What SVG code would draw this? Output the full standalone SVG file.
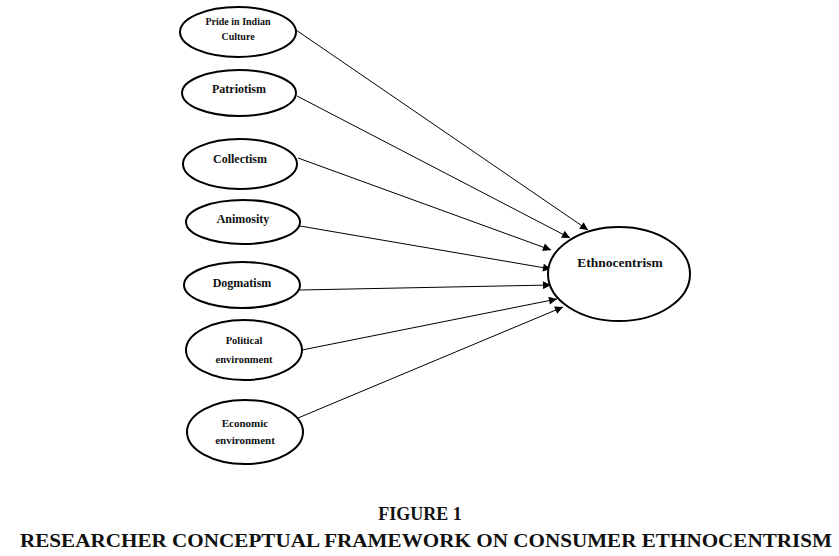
<svg xmlns="http://www.w3.org/2000/svg" width="839" height="556" viewBox="0 0 839 556">
<style>
.n{fill:#fff;stroke:#000;stroke-width:2}
.t{font-family:"Liberation Serif","Times New Roman",serif;font-weight:bold;fill:#111;text-anchor:middle}
.c{stroke:#000;stroke-width:1;fill:none;marker-end:url(#ah)}
</style>
<defs>
<marker id="ah" viewBox="0 0 10 10" refX="10" refY="5" markerWidth="10" markerHeight="8" markerUnits="userSpaceOnUse" orient="auto">
<path d="M0,0L10,5L0,10z" fill="#000"/>
</marker>
</defs>
<rect width="839" height="556" fill="#fff"/>
<g id="connectors">
<line class="c" x1="296" y1="30" x2="588" y2="230"/>
<line class="c" x1="297" y1="96" x2="570" y2="238"/>
<line class="c" x1="298" y1="158" x2="551" y2="250"/>
<line class="c" x1="300" y1="226" x2="551" y2="269"/>
<line class="c" x1="300" y1="290" x2="551" y2="285"/>
<line class="c" x1="302" y1="350" x2="557" y2="299"/>
<line class="c" x1="298" y1="418" x2="563" y2="307"/>
</g>
<g id="pride"><ellipse class="n" cx="238" cy="32" rx="58" ry="25"/><text class="t" x="238" y="25" font-size="10">Pride in Indian</text><text class="t" x="238" y="40" font-size="10">Culture</text></g>
<g id="patriotism"><ellipse class="n" cx="239" cy="93" rx="57" ry="23"/><text class="t" x="239" y="93" font-size="12">Patriotism</text></g>
<g id="collectism"><ellipse class="n" cx="240" cy="164" rx="57" ry="25"/><text class="t" x="240" y="163" font-size="12">Collectism</text></g>
<g id="animosity"><ellipse class="n" cx="243" cy="222" rx="57" ry="22"/><text class="t" x="243" y="223" font-size="12">Animosity</text></g>
<g id="dogmatism"><ellipse class="n" cx="242" cy="285" rx="58" ry="23"/><text class="t" x="242" y="287" font-size="12">Dogmatism</text></g>
<g id="political"><ellipse class="n" cx="244" cy="350" rx="58" ry="30"/><text class="t" x="244" y="344" font-size="10.5">Political</text><text class="t" x="244" y="363" font-size="10.5">environment</text></g>
<g id="economic"><ellipse class="n" cx="245" cy="432" rx="58" ry="32"/><text class="t" x="245" y="427" font-size="11">Economic</text><text class="t" x="245" y="444" font-size="11">environment</text></g>
<g id="ethnocentrism"><ellipse class="n" cx="619" cy="274" rx="71" ry="47"/><text class="t" x="620" y="267" font-size="13.5">Ethnocentrism</text></g>
<g id="caption">
<text class="t" x="420" y="520" font-size="18">FIGURE 1</text>
<text class="t" x="426" y="547" font-size="18" textLength="812" lengthAdjust="spacingAndGlyphs">RESEARCHER CONCEPTUAL FRAMEWORK ON CONSUMER ETHNOCENTRISM</text>
</g>
</svg>
